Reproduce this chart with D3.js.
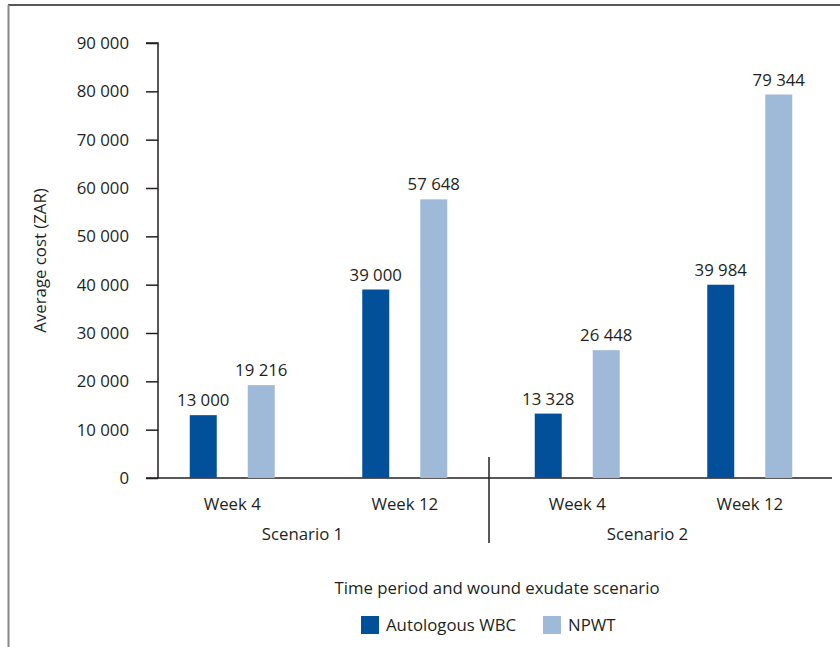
<!DOCTYPE html>
<html>
<head>
<meta charset="utf-8">
<script src="https://cdn.jsdelivr.net/npm/d3@7"></script>
<style>
  html, body { margin: 0; padding: 0; background: #fff; }
  svg { display: block; }
  text { font-family: "Open Sans", "Noto Sans", sans-serif; fill: #231f20; }
</style>
</head>
<body>
<svg id="chart" width="840" height="647"></svg>
<script>
const categories = ["S1W4", "S1W12", "S2W4", "S2W12"];
const weekLabels = ["Week 4", "Week 12", "Week 4", "Week 12"];
const scenarios = ["Scenario 1", "Scenario 2"];
const seriesNames = ["Autologous WBC", "NPWT"];
const autologousWBC = [13000, 39000, 13328, 39984];
const npwt = [19216, 57648, 26448, 79344];
const yTicks = [0, 10000, 20000, 30000, 40000, 50000, 60000, 70000, 80000, 90000];
const colors = ["#02509a", "#9fb9d8"];

const svg = d3.select("#chart");
const fmt = v => d3.format(",")(v).replace(/,/g, " ");
const FS = 16.8;

// frame
svg.append("line").attr("x1", 8).attr("x2", 840).attr("y1", 5).attr("y2", 5)
  .attr("stroke", "#231f20").attr("stroke-width", 1.5);
svg.append("line").attr("x1", 8.5).attr("x2", 8.5).attr("y1", 5).attr("y2", 647)
  .attr("stroke", "#888").attr("stroke-width", 2);

const x0 = 146, x1 = 836, yTop = 43, yBot = 478, axisX = 158;
const x = d3.scaleBand().domain(categories).range([x0, x1]);
const y = d3.scaleLinear().domain([0, 90000]).range([yBot, yTop]);
const inner = d3.scaleBand().domain(seriesNames).range([-42.5, 42.5]).paddingInner(0.5345);

// y axis
const yAxis = d3.axisLeft(y).tickValues(yTicks).tickFormat(fmt).tickSize(12).tickPadding(17);
const gy = svg.append("g").attr("transform", `translate(${axisX},0)`).call(yAxis);
gy.select(".domain").attr("stroke", "#231f20").attr("stroke-width", 1.5).attr("d", `M-12,${yTop}H0V${yBot}`);
gy.selectAll(".tick line").attr("stroke", "#231f20").attr("stroke-width", 1.5);
gy.selectAll(".tick text").attr("font-size", FS).attr("fill", "#231f20")
  .attr("font-family", "'Open Sans', sans-serif");

// x axis line
svg.append("line").attr("x1", x0).attr("x2", 832).attr("y1", yBot).attr("y2", yBot)
  .attr("stroke", "#231f20").attr("stroke-width", 1.5);
// scenario separator
const sepX = x(categories[2]) - 2;
svg.append("line").attr("x1", sepX).attr("x2", sepX).attr("y1", 457).attr("y2", 543)
  .attr("stroke", "#231f20").attr("stroke-width", 1.5);

// bars
const series = [autologousWBC, npwt];
series.forEach((vals, si) => {
  const g = svg.append("g");
  g.selectAll("rect").data(vals).join("rect")
    .attr("x", (d, i) => x(categories[i]) + x.bandwidth() / 2 + inner(seriesNames[si]))
    .attr("width", inner.bandwidth())
    .attr("y", d => y(d))
    .attr("height", d => yBot - y(d))
    .attr("fill", colors[si]);
  g.selectAll("text").data(vals).join("text")
    .attr("x", (d, i) => x(categories[i]) + x.bandwidth() / 2 + inner(seriesNames[si]) + inner.bandwidth() / 2)
    .attr("y", d => y(d) - 9)
    .attr("text-anchor", "middle")
    .attr("font-size", FS)
    .text(fmt);
});

// week labels
svg.append("g").selectAll("text").data(categories).join("text")
  .attr("x", d => x(d) + x.bandwidth() / 2)
  .attr("y", 510)
  .attr("text-anchor", "middle")
  .attr("font-size", FS)
  .text((d, i) => weekLabels[i]);

// scenario labels
svg.append("g").selectAll("text").data(scenarios).join("text")
  .attr("x", (d, i) => (x(categories[i * 2]) + x(categories[i * 2 + 1]) + x.bandwidth()) / 2 - 16)
  .attr("y", 540)
  .attr("text-anchor", "middle")
  .attr("font-size", FS)
  .text(d => d);

// axis titles
svg.append("text").attr("x", 497).attr("y", 594).attr("text-anchor", "middle")
  .attr("font-size", FS).text("Time period and wound exudate scenario");
svg.append("text").attr("transform", `translate(46,${(yTop + yBot) / 2}) rotate(-90)`)
  .attr("text-anchor", "middle").attr("font-size", FS).text("Average cost (ZAR)");

// legend
const legendX = [361, 543];
seriesNames.forEach((n, i) => {
  svg.append("rect").attr("x", legendX[i]).attr("y", 616).attr("width", 18).attr("height", 18).attr("fill", colors[i]);
  svg.append("text").attr("x", legendX[i] + 25).attr("y", 631).attr("font-size", FS).text(n);
});
</script>
</body>
</html>
